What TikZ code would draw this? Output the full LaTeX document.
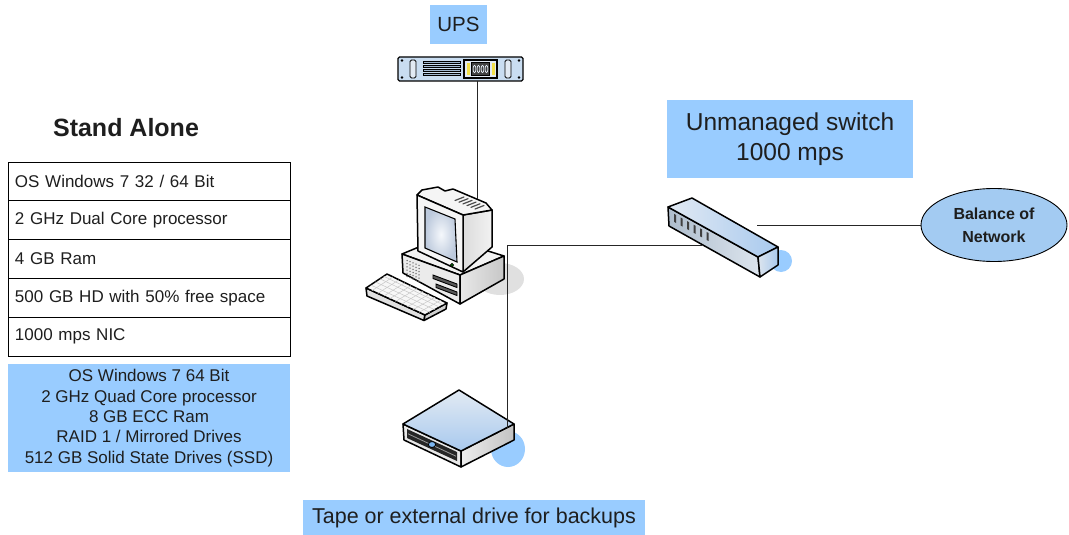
\documentclass[tikz,border=0pt]{standalone}
\usepackage{fontspec}
\setmainfont{Liberation Sans}
\usetikzlibrary{shapes.geometric}
\definecolor{lblue}{HTML}{99CCFF}
\definecolor{ellblue}{HTML}{A3CBF2}
\definecolor{inktext}{HTML}{1E1E1E}
\definecolor{panel}{HTML}{C9DDF1}
\definecolor{paleblue}{HTML}{E2EAF3}
\definecolor{midblue}{HTML}{A8C9EE}
\definecolor{steel}{HTML}{9FB6CE}
\definecolor{steellight}{HTML}{DDE5EE}
\definecolor{steeldark}{HTML}{AEBDCC}
\definecolor{screenedge}{HTML}{BCC9DC}
\definecolor{screenmid}{HTML}{F5F8FC}
\definecolor{ledblue}{HTML}{7DB6F0}
\definecolor{ledyellow}{HTML}{F2E04A}

\begin{document}
\begin{tikzpicture}[x=1pt,y=-1pt,
  lbl/.style={fill=lblue, inner sep=0pt, text=inktext, align=center},
  specrow/.style={draw=black, line width=0.9pt, minimum width=282pt,
    minimum height=38.8pt, text width=268pt, inner xsep=7pt, inner ysep=0pt,
    align=left, font=\fontsize{17}{20}\selectfont, text=inktext},
  wire/.style={draw=black!85, line width=1pt},
  iconline/.style={draw=black, line width=1.5pt, line join=round},
  iconthin/.style={draw=black, line width=0.9pt, line join=round},
]
\useasboundingbox (0,0) rectangle (1069,535);

% ---------- left column: workstation specification ----------
\node[font=\bfseries\fontsize{25}{29}\selectfont, text=inktext] (title) at (126,128) {Stand Alone};
\node[specrow] (r1) at (149,181.4) {OS Windows 7 32 / 64 Bit};
\node[specrow] (r2) at (149,220.2) {2 GHz Dual Core processor};
\node[specrow] (r3) at (149,259.0) {4 GB Ram};
\node[specrow] (r4) at (149,297.8) {500 GB HD with 50\% free space};
\node[specrow] (r5) at (149,336.6) {1000 mps NIC};
\node[lbl, minimum width=282pt, minimum height=108pt,
      font=\fontsize{17}{20.3}\selectfont] (pro) at (149,418)
  {OS Windows 7 64 Bit\\2 GHz Quad Core processor\\8 GB ECC Ram\\RAID 1 / Mirrored Drives\\512 GB Solid State Drives (SSD)};

% ---------- labels ----------
\node[lbl, minimum width=57pt, minimum height=39pt, font=\fontsize{20.5}{24}\selectfont] (upslbl) at (458.5,24.5) {UPS};
\node[lbl, minimum width=246pt, minimum height=78pt, font=\fontsize{24.5}{30}\selectfont] (swlbl) at (790,139) {Unmanaged switch\\1000 mps};
\node[lbl, minimum width=342pt, minimum height=35pt, font=\fontsize{21.5}{25}\selectfont] (tapelbl) at (474,517.5) {Tape or external drive for backups};
\node[ellipse, draw=black, line width=0.9pt, fill=ellblue, minimum width=146pt, minimum height=73pt,
      inner sep=0pt, align=center, font=\bfseries\fontsize{16}{23}\selectfont, text=inktext] (bal) at (994,225) {Balance of\\Network};

% ---------- UPS (rack unit) ----------
\draw[line width=1.1pt, fill=panel, rounded corners=1.5pt] (398,57) rectangle (523,81);
\foreach \sx in {402,519} \foreach \sy in {60.5,77.5} \fill (\sx,\sy) circle (1.4pt);
\foreach \hx in {410,505} \draw[line width=0.9pt, fill=paleblue, rounded corners=1.5pt] (\hx,60) rectangle ({\hx+6},78);
\foreach \k in {0,...,3} \draw[line width=0.8pt, fill=steel] (423,{61+4*\k}) rectangle (460,{63.6+4*\k});
\draw[line width=1.3pt, fill=paleblue] (464,60) rectangle (497,78);
\fill[ledyellow] (466.5,63) rectangle (469.5,75);
\fill[ledyellow] (491.5,63) rectangle (494.5,75);
\draw[line width=0.9pt, fill=black!75] (471.5,62.5) rectangle (489.5,75.5);
\foreach \k in {0,...,3} \draw[line width=0.7pt, draw=paleblue] ({474.5+4*\k},69) ellipse [x radius=1.4pt, y radius=3.6pt];

% ---------- desktop computer ----------
\fill[black!12] (500,279) ellipse [x radius=24pt, y radius=16pt];
% case
\draw[iconline, fill=black!5] (402,254) -- (443,237) -- (504,256) -- (460,275) -- cycle;
\draw[iconline, fill=black!8] (402,254) -- (460,275) -- (460,304) -- (403,273) -- cycle;
\draw[iconline, left color=black!9, right color=black!22] (460,275) -- (504,256) -- (504,279) -- (460,304) -- cycle;
\foreach \r in {0,...,5} \foreach \c in {0,...,4}
  \fill[black!60] ({407+3*\c},{260.5+3.2*\r+1.2*\c}) circle (0.75pt);
\draw[line width=0.9pt, fill=black!65] (433,275) -- (457,284) -- (457,287.5) -- (433,278.5) -- cycle;
\draw[line width=0.9pt, fill=black!65] (436,284) -- (457,292) -- (457,295.5) -- (436,287.5) -- cycle;
% monitor
\draw[iconline, left color=black!14, right color=black!5] (463,215) -- (492,210) -- (492,247) -- (463,272) -- cycle;
\draw[iconline, fill=black!4] (417,195) -- (422,190) -- (438,187) -- (445,191) -- (453,189) -- (486,203) -- (492,210) -- (463,215) -- cycle;
\foreach \k in {0,...,5}
  \draw[line width=1.2pt, black!70, line cap=round] ({455+4*\k},{200.5+1.7*\k}) -- ({464+4*\k},{197+1.7*\k});
\draw[iconline, fill=black!4] (417,195) -- (463,215) -- (463,272) -- (418,251) -- cycle;
\draw[line width=1.1pt, inner color=screenmid, outer color=screenedge] (425,207) -- (455,219) -- (457,262) -- (425,248) -- cycle;
\draw[line width=0.6pt, fill=green!35!black] (452,265) circle (1.7pt);
% keyboard
\draw[iconline, fill=black!12] (366,288) -- (425,315) -- (424,320.5) -- (367,296) -- cycle;
\draw[iconline, fill=black!18] (425,315) -- (447,303) -- (446,309) -- (424,320.5) -- cycle;
\draw[iconline, fill=black!3] (366,288) -- (387,274) -- (447,303) -- (425,315) -- cycle;
\foreach \t in {0.22,0.44,0.66,0.84}
  \draw[black!22, line width=0.5pt] ({366+21*\t},{288-14*\t}) -- ({425+22*\t},{315-12*\t});
\foreach \s in {0.1,0.2,...,0.91}
  \draw[black!22, line width=0.5pt] ({366+59*\s},{288+27*\s}) -- ({387+60*\s},{274+29*\s});

% ---------- switch ----------
\fill[lblue] (781,261) ellipse [x radius=11pt, y radius=11pt];
\draw[iconline, left color=steeldark, right color=steellight] (668,207) -- (758,257) -- (760,277) -- (669,226) -- cycle;
\draw[iconline, left color=paleblue, right color=midblue] (668,207) -- (692,198) -- (778,247) -- (758,257) -- cycle;
\draw[iconline, left color=steellight, right color=midblue] (758,257) -- (778,247) -- (778,265) -- (760,277) -- cycle;
\foreach \k in {0,...,5} {
  \pgfmathsetmacro{\px}{674+6.5*\k}
  \pgfmathsetmacro{\py}{207+(\px-668)*0.556+3.5}
  \fill[black!75] (\px,\py) -- ({\px+2.2},{\py+1.2}) -- ({\px+2.2},{\py+9.2}) -- (\px,{\py+8}) -- cycle;
}

% ---------- tape / external drive ----------
\fill[lblue] (508,449) ellipse [x radius=17pt, y radius=18pt];
\draw[iconline, fill=black!9] (403,424) -- (461,451) -- (461,467) -- (404,440) -- cycle;
\draw[iconline, left color=black!7, right color=black!24] (461,451) -- (514,424) -- (514,440) -- (461,467) -- cycle;
\draw[iconline, top color=paleblue, bottom color=midblue] (403,424) -- (459,390) -- (514,424) -- (461,451) -- cycle;
\fill[black!85] (407,429) -- (457,452) -- (457,461) -- (407,438) -- cycle;
\draw[black!40, line width=0.8pt] (408,433.8) -- (456,456.2);
\draw[line width=0.8pt, fill=ledblue] (432,444.5) ellipse [x radius=3.6pt, y radius=3pt];

% ---------- connections ----------
\coordinate (ups-port) at (477,81);
\coordinate (pc-top) at (477,199);
\coordinate (pc-hub) at (507,245);
\coordinate (sw-in) at (702,245);
\coordinate (sw-out) at (757,225);
\coordinate (tape-port) at (507,428);
\draw[wire] (ups-port) -- (pc-top);
\draw[wire] (pc-hub) -- (sw-in);
\draw[wire] (pc-hub) -- (tape-port);
\draw[wire] (sw-out) -- (bal.west);
\end{tikzpicture}
\end{document}
